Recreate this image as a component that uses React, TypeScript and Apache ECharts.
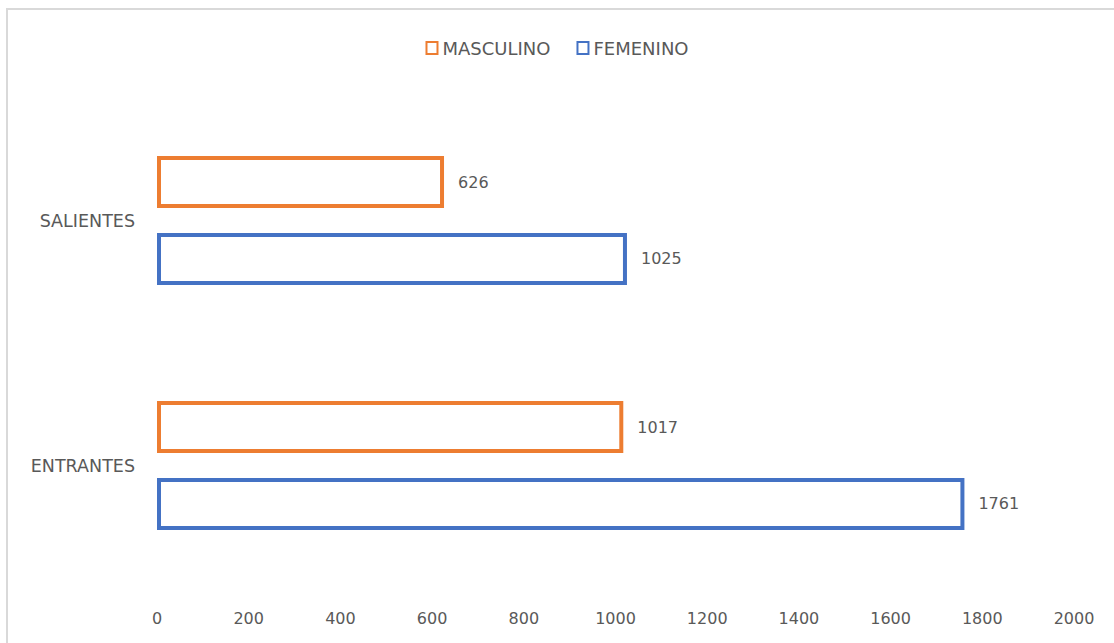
import React, { useEffect, useRef } from "react";
import * as echarts from "echarts";

const categories = ["ENTRANTES", "SALIENTES"];
const seriesNames = ["MASCULINO", "FEMENINO"];
const masculino = [1017, 626];
const femenino = [1761, 1025];
const xTicks = { min: 0, max: 2000, interval: 200 };

export default function App() {
  const ref = useRef<HTMLDivElement>(null);
  useEffect(() => {
    const chart = echarts.init(ref.current!, null, { renderer: "svg" });
    const font = "'DejaVu Sans', sans-serif";
    const mk = (name: string, data: number[], color: string) => ({
      name,
      type: "bar",
      data,
      barWidth: 52,
      barGap: "48%",
      itemStyle: { color: "#ffffff", borderColor: color, borderWidth: 4 },
      label: {
        show: true,
        position: "right",
        distance: 14,
        color: "#595959",
        fontSize: 16,
        fontFamily: font,
      },
    });
    chart.setOption({
      animation: false,
      backgroundColor: "#ffffff",
      textStyle: { fontFamily: font },
      graphic: [
        {
          type: "rect",
          shape: { x: 7, y: 9, width: 1200, height: 700 },
          style: { fill: "none", stroke: "#d9d9d9", lineWidth: 2 },
          silent: true,
        },
      ],
      legend: {
        top: 34,
        left: "center",
        itemWidth: 11,
        itemHeight: 12,
        itemGap: 26,
        icon: "rect",
        textStyle: { color: "#595959", fontSize: 18, fontFamily: font },
        data: seriesNames,
      },
      grid: { left: 157, right: 40, top: 98, bottom: 55, containLabel: false },
      xAxis: {
        type: "value",
        min: xTicks.min,
        max: xTicks.max,
        interval: xTicks.interval,
        axisLine: { show: false },
        axisTick: { show: false },
        splitLine: { show: false },
        axisLabel: {
          color: "#595959",
          fontSize: 16,
          margin: 22,
          fontFamily: font,
          formatter: (v: number) => String(v),
        },
      },
      yAxis: {
        type: "category",
        data: categories,
        axisLine: { show: false },
        axisTick: { show: false },
        splitLine: { show: false },
        axisLabel: { color: "#595959", fontSize: 17.5, margin: 22, fontFamily: font },
      },
      series: [
        mk(seriesNames[0], masculino, "#ED7D31"),
        mk(seriesNames[1], femenino, "#4472C4"),
      ],
    });
    return () => chart.dispose();
  }, []);
  return (
    <div
      ref={ref}
      style={{ position: "absolute", left: 0, top: 0, width: 1114, height: 643 }}
    />
  );
}
